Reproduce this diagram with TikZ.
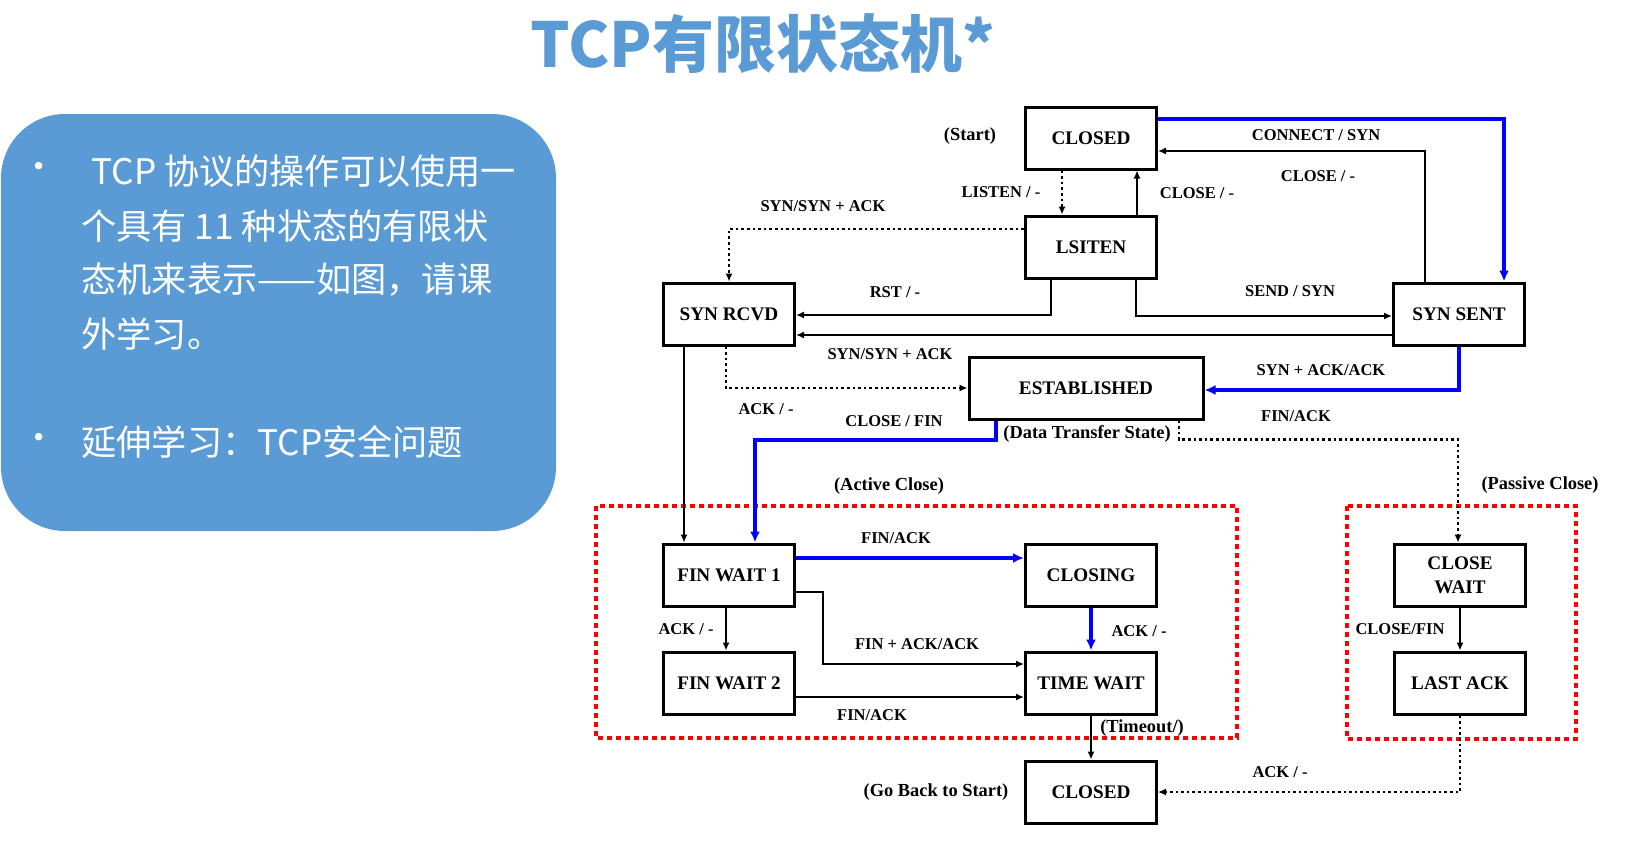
\documentclass[tikz,border=0pt]{standalone}
\usepackage{fontspec}
\setmainfont{Liberation Serif}
\newfontfamily\cjk{Noto Sans CJK SC}
\usetikzlibrary{arrows.meta}
\definecolor{tblue}{RGB}{91,155,213}
\definecolor{lineblue}{RGB}{0,0,255}
\begin{document}
\begin{tikzpicture}[x=0.5pt,y=-0.5pt,
  state/.style={draw, line width=1.5pt, minimum width=65.5pt, minimum height=31pt, inner sep=0pt,
    font=\fontsize{9.6}{12}\selectfont\bfseries, align=center},
  lbl/.style={font=\fontsize{8.25}{10}\selectfont\bfseries, inner sep=0pt},
  plbl/.style={font=\fontsize{9.2}{11}\selectfont\bfseries, inner sep=0pt},
  arr/.style={line width=1.3pt, -{Latex[length=4pt,width=3.6pt]}},
  bluearr/.style={line width=2pt, draw=lineblue, -{Latex[length=5.5pt,width=5pt]}},
  dotarr/.style={line width=1.3pt, dash pattern=on 1.3pt off 1.5pt, -{Latex[length=4pt,width=3.6pt]}},
  reddot/.style={draw=red, line width=2.2pt, dash pattern=on 2.3pt off 2.2pt},
  txt/.style={font=\cjk\fontsize{17.6}{20}\selectfont, text=white, anchor=west, inner sep=0pt},
]
\useasboundingbox (0,0) rectangle (1626,847);

% title
\node[font=\cjk\bfseries\fontsize{31}{36}\selectfont, text=tblue, inner sep=0pt] (title) at (763,44) {TCP有限状态机*};

% left panel
\fill[tblue, rounded corners=32pt] (1,114) rectangle (556,531);
\node[txt, anchor=center] (b1) at (39,171) {•};
\node[txt] (t1) at (91,171) {TCP 协议的操作可以使用一};
\node[txt] (t2) at (81,226) {个具有 11 种状态的有限状};
\node[txt] (t3) at (81,280) {态机来表示——如图，请课};
\node[txt] (t4) at (81,334) {外学习。};
\node[txt, anchor=center] (b2) at (39,442) {•};
\node[txt] (t5) at (81,442) {延伸学习：TCP安全问题};

% red groups
\draw[reddot] (596,506) rectangle (1237,738);
\draw[reddot] (1347,506) rectangle (1576,739);

% states
\node[state] (closedT) at (1091,138) {CLOSED};
\node[state] (listen) at (1091,247) {LSITEN};
\node[state] (synrcvd) at (729,314) {SYN RCVD};
\node[state] (synsent) at (1459,314) {SYN SENT};
\node[state, minimum width=117pt] (estab) at (1086,388) {ESTABLISHED};
\node[state] (fw1) at (729,575) {FIN WAIT 1};
\node[state] (closing) at (1091,575) {CLOSING};
\node[state] (fw2) at (729,683) {FIN WAIT 2};
\node[state] (timewait) at (1091,683) {TIME WAIT};
\node[state] (closewait) at (1460,575) {CLOSE\\WAIT};
\node[state] (lastack) at (1460,683) {LAST ACK};
\node[state] (closedB) at (1091,792) {CLOSED};

% connectors
\draw[dotarr] ([xshift=-14.5pt]closedT.south) -- ([xshift=-14.5pt]listen.north);
\draw[arr] ([xshift=23pt]listen.north) -- ([xshift=23pt]closedT.south);
\draw[bluearr] ([yshift=9.5pt]closedT.east) -| ([xshift=22.5pt]synsent.north);
\draw[arr] ([xshift=-17pt]synsent.north) |- ([yshift=-6.5pt]closedT.east);
\draw[arr] ([xshift=22.5pt]listen.south) |- ([yshift=-1pt]synsent.west);
\draw[arr] ([xshift=-20pt]listen.south) |- ([yshift=-0.5pt]synrcvd.east);
\draw[arr] ([yshift=-10.5pt]synsent.west) -- ([yshift=-10.5pt]synrcvd.east);
\draw[dotarr] ([yshift=9pt]listen.west) -| (synrcvd.north);
\draw[dotarr] ([xshift=-1.5pt]synrcvd.south) |- (estab.west);
\draw[arr] ([xshift=-22.5pt]synrcvd.south) -- ([xshift=-22.5pt]fw1.north);
\draw[bluearr] (synsent.south) |- ([yshift=-1pt]estab.east);
\draw[bluearr] ([xshift=-45pt]estab.south) -- ++(0pt,-9.5pt) -| ([xshift=13pt]fw1.north);
\draw[dotarr] ([xshift=46.5pt]estab.south) -- ++(0pt,-9.5pt) -| ([xshift=-1pt]closewait.north);
\draw[bluearr] ([yshift=8.5pt]fw1.east) -- ([yshift=8.5pt]closing.west);
\draw[arr] ([yshift=-8.5pt]fw1.east) -- ++(13.5pt,0pt) |- ([yshift=9.5pt]timewait.west);
\draw[arr] ([xshift=-1.5pt]fw1.south) -- ([xshift=-1.5pt]fw2.north);
\draw[bluearr] (closing.south) -- (timewait.north);
\draw[arr] ([yshift=-7pt]fw2.east) -- ([yshift=-7pt]timewait.west);
\draw[arr] (timewait.south) -- (closedB.north);
\draw[arr] (closewait.south) -- (lastack.north);
\draw[dotarr] (lastack.south) |- (closedB.east);

% labels
\node[plbl] (lstart) at (970,136) {(Start)};
\node[lbl] (llisten) at (1001,192) {LISTEN / -};
\node[lbl] (lsyn1) at (823,206) {SYN/SYN + ACK};
\node[lbl] (lclose1) at (1197,193) {CLOSE / -};
\node[lbl] (lconn) at (1316,135) {CONNECT / SYN};
\node[lbl] (lclose2) at (1318,176) {CLOSE / -};
\node[lbl] (lrst) at (895,292) {RST / -};
\node[lbl] (lsend) at (1290,291) {SEND / SYN};
\node[lbl] (lsyn2) at (890,354) {SYN/SYN + ACK};
\node[lbl] (lsynack) at (1321,370) {SYN + ACK/ACK};
\node[lbl] (lack1) at (766,409) {ACK / -};
\node[lbl] (lclosefin) at (894,421) {CLOSE / FIN};
\node[lbl] (lfinack1) at (1296,416) {FIN/ACK};
\node[plbl] (ldata) at (1087,434) {(Data Transfer State)};
\node[plbl] (lactive) at (889,486) {(Active Close)};
\node[plbl] (lpassive) at (1540,485) {(Passive Close)};
\node[lbl] (lfinack2) at (896,538) {FIN/ACK};
\node[lbl] (lack2) at (686,629) {ACK / -};
\node[lbl] (lfinackack) at (917,644) {FIN + ACK/ACK};
\node[lbl] (lack3) at (1139,631) {ACK / -};
\node[lbl] (lclosefin2) at (1400,629) {CLOSE/FIN};
\node[lbl] (lfinack3) at (872,715) {FIN/ACK};
\node[plbl] (ltimeout) at (1142,728) {(Timeout/)};
\node[lbl] (lack4) at (1280,772) {ACK / -};
\node[plbl] (lgoback) at (936,792) {(Go Back to Start)};
\end{tikzpicture}
\end{document}
